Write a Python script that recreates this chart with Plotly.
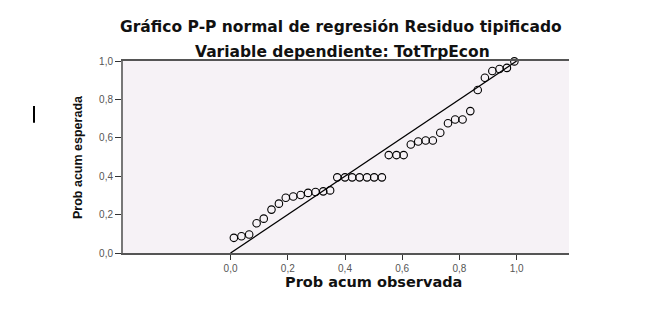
import plotly.graph_objects as go

obs = [0.0115, 0.038, 0.065, 0.091, 0.116, 0.143, 0.169, 0.193, 0.219, 0.245,
       0.271, 0.297, 0.324, 0.348, 0.373, 0.400, 0.425, 0.451, 0.477, 0.502,
       0.529, 0.553, 0.580, 0.605, 0.630, 0.656, 0.682, 0.707, 0.733, 0.760,
       0.785, 0.811, 0.838, 0.864, 0.889, 0.915, 0.940, 0.966, 0.992]
esp = [0.079, 0.087, 0.096, 0.155, 0.179, 0.226, 0.257, 0.288, 0.294, 0.302,
       0.313, 0.318, 0.321, 0.326, 0.394, 0.394, 0.394, 0.394, 0.394, 0.394,
       0.394, 0.510, 0.510, 0.510, 0.565, 0.581, 0.586, 0.586, 0.626, 0.676,
       0.695, 0.695, 0.739, 0.849, 0.913, 0.948, 0.958, 0.964, 0.998]
diag_x = [0.0, 1.0]
diag_y = [0.0, 1.0]
ticks = [0.0, 0.2, 0.4, 0.6, 0.8, 1.0]
tick_text = ["0,0", "0,2", "0,4", "0,6", "0,8", "1,0"]

title1 = "Gráfico P-P normal de regresión Residuo tipificado"
title2 = "Variable dependiente: TotTrpEcon"
xtitle = "Prob acum observada"
ytitle = "Prob acum esperada"

L, R, T, B = 123, 95, 61, 56.5
W, H = 664, 310
pw = W - L - R
ph = H - T - B


def px(xp):
    return (xp - L) / pw


def py(yp):
    return (H - yp - B) / ph


fig = go.Figure()
fig.add_trace(go.Scatter(x=diag_x, y=diag_y, mode="lines",
                         line=dict(color="black", width=1.3),
                         hoverinfo="skip", cliponaxis=False))
fig.add_trace(go.Scatter(x=obs, y=esp, mode="markers",
                         marker=dict(symbol="circle-open", size=7.5,
                                     color="black", line=dict(width=1.1)),
                         cliponaxis=False))

tfont = "DejaVu Sans, Verdana, sans-serif"
fig.update_layout(
    width=W, height=H,
    margin=dict(l=L, r=R, t=T, b=B),
    paper_bgcolor="white",
    plot_bgcolor="#F6F2F6",
    showlegend=False,
    font=dict(family="Liberation Sans, Arial, sans-serif", color="#555555", size=9),
    xaxis=dict(range=[-0.376, 1.183], tickvals=ticks, ticktext=tick_text,
               showgrid=False, zeroline=False, showline=True,
               linecolor="#555555", linewidth=2, mirror=True,
               ticks="outside", ticklen=5, tickcolor="#333333", tickwidth=1,
               tickfont=dict(size=10, color="#555555")),
    yaxis=dict(range=[0, 1], tickvals=ticks, ticktext=tick_text,
               showgrid=False, zeroline=False, showline=True,
               linecolor="#777777", linewidth=2,
               ticks="outside", ticklen=6, tickcolor="#333333", tickwidth=1,
               tickfont=dict(size=10, color="#555555")),
    annotations=[
        dict(text="<b>" + title1 + "</b>", x=px(341), y=py(27), xref="paper",
             yref="paper", xanchor="center", yanchor="middle", showarrow=False,
             font=dict(family=tfont, size=15.5, color="#111111")),
        dict(text="<b>" + title2 + "</b>", x=px(342), y=py(52), xref="paper",
             yref="paper", xanchor="center", yanchor="middle", showarrow=False,
             font=dict(family=tfont, size=15.5, color="#111111")),
        dict(text="<b>" + xtitle + "</b>", x=0.5, xref="x", y=py(283), yref="paper",
             xanchor="center", yanchor="middle", showarrow=False,
             font=dict(family=tfont, size=14.5, color="#111111")),
        dict(text="<b>" + ytitle + "</b>", x=px(78), xref="paper", y=0.5, yref="paper",
             xanchor="center", yanchor="middle", textangle=-90, showarrow=False,
             font=dict(family="Liberation Sans, Arial, sans-serif",
                       size=12.5, color="#111111")),
    ],
)

fig.add_shape(type="line", xref="paper", yref="paper",
              x0=px(34), x1=px(34), y0=py(123), y1=py(106),
              line=dict(color="black", width=2))

fig.write_html("out.html")
